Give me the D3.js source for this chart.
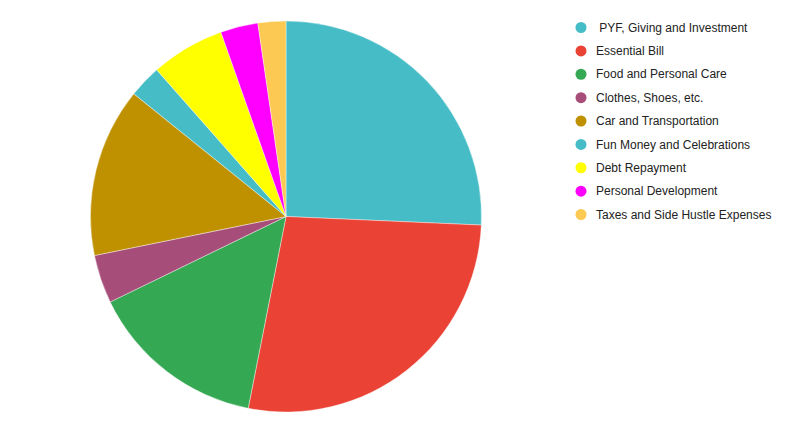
<!DOCTYPE html>
<html>
<head>
<meta charset="utf-8">
<script src="https://cdn.jsdelivr.net/npm/d3@7"></script>
<style>
  body { margin: 0; background: #fff; }
  svg { display: block; }
</style>
</head>
<body>
<div id="chart"></div>
<script>
// budget categories and their share (percent)
const categories = [
  ' PYF, Giving and Investment',
  'Essential Bill',
  'Food and Personal Care',
  'Clothes, Shoes, etc.',
  'Car and Transportation',
  'Fun Money and Celebrations',
  'Debt Repayment',
  'Personal Development',
  'Taxes and Side Hustle Expenses'
];
const shares = [25.7, 27.4, 14.7, 4.0, 14.0, 2.7, 6.1, 3.1, 2.3];
const colors = ['#46bdc6', '#ea4335', '#34a853', '#a64d79', '#bf9000',
                '#46bdc6', '#ffff00', '#ff00ff', '#fcc952'];

let width = 794,
    height = 435,
    radius = 195.5,
    cx = 286,
    cy = 216.5

let svg = d3.select('#chart')
  .append('svg')
  .attr('xmlns', 'http://www.w3.org/2000/svg')
  .attr('width', width)
  .attr('height', height);

let color = d3.scaleOrdinal()
  .domain(d3.range(categories.length))
  .range(colors);

let pie = d3.pie()
  .sort(null)
  .value(function(d) { return d.value; });

let data_ready = pie(shares.map(function(v, i) { return {key: i, value: v}; }));

let arc = d3.arc()
  .innerRadius(0)
  .outerRadius(radius);

let pieG = svg.append('g')
  .attr('transform', 'translate(' + cx + ',' + cy + ')');

pieG.selectAll('path')
  .data(data_ready)
  .enter()
  .append('path')
  .attr('d', arc)
  .attr('fill', function(d) { return color(d.data.key); })
  .attr('stroke', '#ffffff')
  .attr('stroke-width', 0.4);

// legend on the right
let rowStep = d3.scaleLinear()
  .domain([0, categories.length - 1])
  .range([27.5, 214.5]);

let legend = svg.append('g')
  .attr('transform', 'translate(581,0)');

let rows = legend.selectAll('g')
  .data(categories)
  .enter()
  .append('g')
  .attr('transform', function(d, i) { return 'translate(0,' + rowStep(i) + ')'; });

rows.append('circle')
  .attr('r', 5.5)
  .attr('fill', function(d, i) { return color(i); });

rows.append('text')
  .attr('x', 15)
  .attr('dy', '0.35em')
  .style('font-family', 'Arial, "Liberation Sans", sans-serif')
  .style('font-size', '12px')
  .style('white-space', 'pre')
  .attr('fill', '#222')
  .text(function(d) { return d; });
</script>
</body>
</html>
